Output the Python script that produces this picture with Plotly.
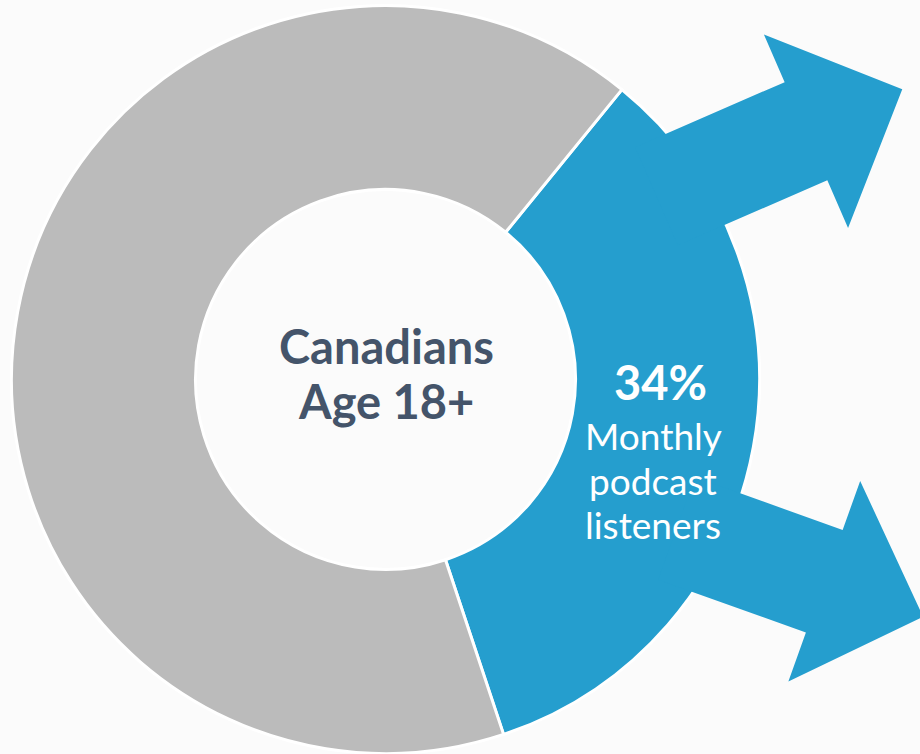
import math
import plotly.graph_objects as go

# ---- data ----
segment_labels = ["Monthly podcast listeners", "Other Canadians 18+"]
segment_values = [34, 66]
center_lines = ["Canadians", "Age 18+"]
listener_lines = ["Monthly", "podcast", "listeners"]

# ---- styling ----
W, H = 920, 754
BG = "#fbfbfb"
BLUE = "#259ece"
GRAY = "#bbbbbb"
DARK = "#44546a"
FONT = "Lato"

# donut geometry in pixels
CX, CY = 385.5, 379.5
R_OUT = 374.0
R_IN = 190.0
ROTATION = 39.2  # clockwise from 12 o'clock, start of the first slice


def px_to_paper(x, y):
    return x / W, 1 - y / H


# arrows leaving the blue segment: anchor angle on the rim, heading and sizes (px)
arrows = [
    dict(anchor=32.8, heading=23.5, shaft_w=107, shaft_len=118, head_w=211, head_len=105),
    dict(anchor=-26.2, heading=-19.7, shaft_w=109, shaft_len=112, head_w=213, head_len=105),
]


def arrow_path(a):
    r = R_OUT - 2.5
    bx = CX + r * math.cos(math.radians(a["anchor"]))
    by = CY - r * math.sin(math.radians(a["anchor"]))
    ux, uy = math.cos(math.radians(a["heading"])), -math.sin(math.radians(a["heading"]))
    nx, ny = -uy, ux
    back = 45  # overlap into the ring
    hs, hh = a["shaft_w"] / 2, a["head_w"] / 2
    L, T = a["shaft_len"], a["shaft_len"] + a["head_len"]
    pts = [
        (bx - back * ux - hs * nx, by - back * uy - hs * ny),
        (bx + L * ux - hs * nx, by + L * uy - hs * ny),
        (bx + L * ux - hh * nx, by + L * uy - hh * ny),
        (bx + T * ux, by + T * uy),
        (bx + L * ux + hh * nx, by + L * uy + hh * ny),
        (bx + L * ux + hs * nx, by + L * uy + hs * ny),
        (bx - back * ux + hs * nx, by - back * uy + hs * ny),
    ]
    pp = [px_to_paper(x, y) for x, y in pts]
    return "M " + " L ".join(f"{x:.5f},{y:.5f}" for x, y in pp) + " Z"


fig = go.Figure(
    go.Pie(
        labels=segment_labels,
        values=segment_values,
        hole=R_IN / R_OUT,
        sort=False,
        direction="clockwise",
        rotation=ROTATION,
        marker=dict(colors=[BLUE, GRAY], line=dict(color="#ffffff", width=3)),
        textinfo="none",
        hoverinfo="label+percent",
        showlegend=False,
        domain=dict(
            x=[(CX - R_OUT) / W, (CX + R_OUT) / W],
            y=[1 - (CY + R_OUT) / H, 1 - (CY - R_OUT) / H],
        ),
    )
)

shapes = [
    dict(type="path", path=arrow_path(a), xref="paper", yref="paper",
         fillcolor=BLUE, line=dict(width=0), layer="above")
    for a in arrows
]

annotations = []


def add_line(text, x_px, baseline_px, size, color, weight):
    xc, yc = px_to_paper(x_px, baseline_px - 0.387 * size)
    annotations.append(dict(
        text=text, x=xc, y=yc, xref="paper", yref="paper",
        xanchor="center", yanchor="middle", showarrow=False,
        font=dict(family=FONT, size=size, color=color, weight=weight),
    ))


# centre label
for line, base in zip(center_lines, [364, 419]):
    add_line(line, 386, base, 47, DARK, 700)

# blue segment label, the percentage comes from the value itself
add_line(f"{segment_values[0]}%", 660, 400.5, 47, "#ffffff", 700)
for line, base in zip(listener_lines, [450, 494.5, 538.5]):
    add_line(line, 653, base, 37, "#ffffff", 400)

fig.update_layout(
    width=W, height=H,
    margin=dict(l=0, r=0, t=0, b=0),
    paper_bgcolor=BG, plot_bgcolor=BG,
    shapes=shapes,
    annotations=annotations,
)

fig.write_html("out.html")
